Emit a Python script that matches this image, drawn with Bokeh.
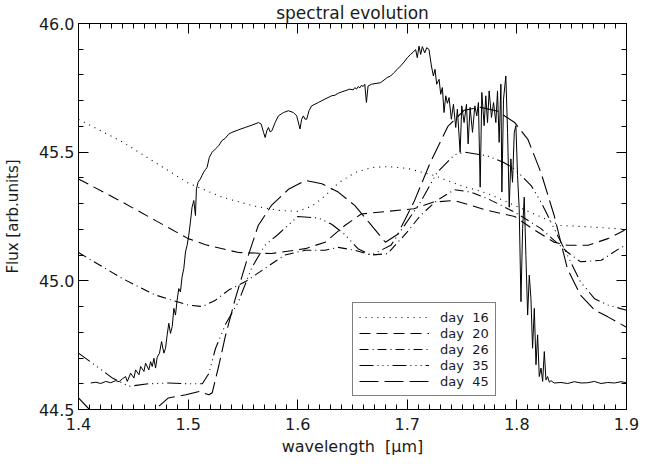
from bokeh.plotting import figure
from bokeh.models import (Legend, LegendItem, LinearAxis, FixedTicker, Range1d,
                          ColumnDataSource)
from bokeh.embed import file_html
from bokeh.resources import INLINE

# ---------------- data ----------------
x_ticks = [1.4, 1.5, 1.6, 1.7, 1.8, 1.9]
x_tick_labels = ["1.4", "1.5", "1.6", "1.7", "1.8", "1.9"]
y_ticks = [44.5, 45.0, 45.5, 46.0]
y_tick_labels = ["44.5", "45.0", "45.5", "46.0"]

NB = "\u00a0"
legend_labels = ["day" + NB + NB + "16", "day" + NB + NB + "20", "day" + NB + NB + "26",
                 "day" + NB + NB + "35", "day" + NB + NB + "45"]
title_text = "spectral evolution"
x_label = "wavelength" + NB + NB + "[\u03bcm]"
y_label = "Flux" + NB + "[arb.units]"

# observed spectrum (solid line)
spec_wl = [1.4112, 1.4158, 1.4203, 1.4248, 1.4294, 1.4339, 1.4370, 1.4400, 1.4430, 1.4445,
           1.4476, 1.4506, 1.4521, 1.4552, 1.4567, 1.4597, 1.4612, 1.4642, 1.4658, 1.4673,
           1.4688, 1.4703, 1.4718, 1.4739, 1.4758, 1.4779, 1.4794, 1.4809, 1.4824, 1.4839,
           1.4855, 1.4870, 1.4885, 1.4900, 1.4915, 1.4930, 1.4945, 1.4961, 1.4976, 1.4991,
           1.5006, 1.5021, 1.5036, 1.5052, 1.5067, 1.5076, 1.5091, 1.5112, 1.5127, 1.5142,
           1.5158, 1.5173, 1.5194, 1.5218, 1.5248, 1.5279, 1.5309, 1.5339, 1.5370, 1.5400,
           1.5461, 1.5521, 1.5582, 1.5642, 1.5667, 1.5688, 1.5703, 1.5718, 1.5733, 1.5748,
           1.5764, 1.5794, 1.5824, 1.5870, 1.5915, 1.5961, 1.5991, 1.6021, 1.6036, 1.6052,
           1.6067, 1.6082, 1.6103, 1.6127, 1.6188, 1.6248, 1.6309, 1.6339, 1.6370, 1.6400,
           1.6430, 1.6476, 1.6506, 1.6521, 1.6537, 1.6552, 1.6567, 1.6582, 1.6597, 1.6612,
           1.6627, 1.6642, 1.6673, 1.6756, 1.6817, 1.6848, 1.6878, 1.6909, 1.6939, 1.6970,
           1.7000, 1.7030, 1.7055, 1.7076, 1.7091, 1.7107, 1.7122, 1.7137, 1.7159, 1.7177,
           1.7198, 1.7220, 1.7238, 1.7253, 1.7268, 1.7290, 1.7305, 1.7320, 1.7335, 1.7351,
           1.7366, 1.7381, 1.7402, 1.7421, 1.7442, 1.7457, 1.7482, 1.7497, 1.7518, 1.7540,
           1.7555, 1.7573, 1.7595, 1.7616, 1.7634, 1.7649, 1.7665, 1.7680, 1.7701, 1.7716,
           1.7732, 1.7747, 1.7768, 1.7787, 1.7808, 1.7823, 1.7838, 1.7854, 1.7863, 1.7878,
           1.7899, 1.7915, 1.7930, 1.7945, 1.7960, 1.7976, 1.7991, 1.8006, 1.8021, 1.8037,
           1.8052, 1.8067, 1.8082, 1.8098, 1.8113, 1.8128, 1.8143, 1.8159, 1.8174, 1.8189,
           1.8204, 1.8220, 1.8235, 1.8250, 1.8265, 1.8280, 1.8296, 1.8311, 1.8341, 1.8402,
           1.8463, 1.8524, 1.8585, 1.8646, 1.8707, 1.8768, 1.8829, 1.8890, 1.8951, 1.9000]
spec_flux = [44.603, 44.606, 44.601, 44.609, 44.604, 44.612, 44.608, 44.619, 44.628, 44.609,
             44.641, 44.622, 44.654, 44.635, 44.667, 44.648, 44.680, 44.654, 44.686, 44.667,
             44.699, 44.661, 44.703, 44.719, 44.764, 44.719, 44.738, 44.790, 44.835, 44.796,
             44.822, 44.893, 44.867, 44.925, 44.970, 44.957, 45.015, 45.048, 45.112, 45.138,
             45.177, 45.228, 45.286, 45.312, 45.254, 45.357, 45.383, 45.396, 45.409, 45.422,
             45.432, 45.441, 45.480, 45.499, 45.512, 45.525, 45.545, 45.554, 45.570, 45.577,
             45.587, 45.596, 45.605, 45.615, 45.609, 45.577, 45.557, 45.583, 45.596, 45.579,
             45.583, 45.615, 45.641, 45.654, 45.661, 45.654, 45.641, 45.590, 45.628, 45.641,
             45.628, 45.628, 45.661, 45.680, 45.693, 45.706, 45.719, 45.721, 45.729, 45.734,
             45.738, 45.745, 45.742, 45.751, 45.745, 45.755, 45.750, 45.760, 45.755, 45.764,
             45.693, 45.757, 45.764, 45.770, 45.790, 45.796, 45.809, 45.822, 45.835, 45.850,
             45.867, 45.880, 45.889, 45.899, 45.867, 45.912, 45.880, 45.910, 45.886, 45.906,
             45.899, 45.835, 45.796, 45.822, 45.764, 45.783, 45.725, 45.751, 45.654, 45.719,
             45.690, 45.712, 45.628, 45.686, 45.596, 45.667, 45.499, 45.680, 45.615, 45.686,
             45.532, 45.674, 45.577, 45.680, 45.641, 45.693, 45.364, 45.732, 45.603, 45.719,
             45.615, 45.738, 45.635, 45.693, 45.615, 45.738, 45.538, 45.764, 45.345, 45.706,
             45.796, 45.577, 45.286, 45.474, 45.383, 45.577, 45.603, 45.409, 45.280, 44.919,
             45.203, 45.325, 45.099, 44.867, 45.022, 44.932, 44.738, 44.893, 44.674, 44.790,
             44.628, 44.661, 44.609, 44.725, 44.615, 44.628, 44.606, 44.612, 44.603, 44.605,
             44.601, 44.608, 44.603, 44.604, 44.609, 44.601, 44.605, 44.603, 44.608, 44.604]

# model spectra
d16_wl = [1.400, 1.440, 1.470, 1.500, 1.531, 1.561, 1.582, 1.600, 1.613, 1.625, 1.637, 1.652,
          1.667, 1.682, 1.700, 1.724, 1.749, 1.773, 1.798, 1.822, 1.840, 1.865, 1.900]
d16_flux = [45.628, 45.540, 45.460, 45.380, 45.325, 45.290, 45.274, 45.270, 45.290, 45.330,
            45.380, 45.420, 45.440, 45.444, 45.437, 45.410, 45.370, 45.340, 45.293, 45.248,
            45.215, 45.210, 45.200]

d20_wl = [1.400, 1.440, 1.470, 1.500, 1.516, 1.546, 1.576, 1.607, 1.625, 1.643, 1.658, 1.682,
          1.706, 1.724, 1.743, 1.773, 1.798, 1.815, 1.834, 1.846, 1.865, 1.883, 1.900]
d20_flux = [45.396, 45.306, 45.235, 45.164, 45.140, 45.110, 45.106, 45.125, 45.150, 45.215,
            45.260, 45.270, 45.280, 45.306, 45.312, 45.274, 45.250, 45.200, 45.150, 45.138,
            45.138, 45.164, 45.200]

d26_wl = [1.400, 1.440, 1.470, 1.500, 1.513, 1.525, 1.537, 1.552, 1.570, 1.588, 1.607, 1.625,
          1.637, 1.652, 1.667, 1.682, 1.700, 1.712, 1.727, 1.743, 1.758, 1.773, 1.798, 1.822,
          1.846, 1.858, 1.877, 1.895, 1.900]
d26_flux = [45.110, 45.009, 44.945, 44.906, 44.900, 44.925, 44.964, 44.996, 45.048, 45.100,
            45.119, 45.119, 45.130, 45.119, 45.100, 45.106, 45.190, 45.254, 45.312, 45.354,
            45.345, 45.320, 45.267, 45.203, 45.112, 45.074, 45.080, 45.130, 45.138]

d35_wl = [1.400, 1.419, 1.431, 1.446, 1.464, 1.482, 1.501, 1.513, 1.519, 1.525, 1.534, 1.546,
          1.558, 1.570, 1.582, 1.600, 1.619, 1.631, 1.643, 1.655, 1.667, 1.685, 1.712, 1.727,
          1.743, 1.752, 1.773, 1.788, 1.798, 1.813, 1.822, 1.834, 1.846, 1.858, 1.871, 1.883,
          1.900]
d35_flux = [44.719, 44.660, 44.622, 44.590, 44.600, 44.603, 44.600, 44.600, 44.640, 44.737,
            44.830, 44.920, 45.050, 45.138, 45.180, 45.250, 45.244, 45.220, 45.180, 45.125,
            45.100, 45.138, 45.306, 45.420, 45.490, 45.500, 45.486, 45.460, 45.435, 45.370,
            45.306, 45.203, 45.100, 44.996, 44.930, 44.906, 44.886]

d45_wl = [1.400, 1.410, 1.425, 1.445, 1.465, 1.470, 1.482, 1.498, 1.510, 1.519, 1.522, 1.528,
          1.534, 1.543, 1.555, 1.564, 1.576, 1.592, 1.607, 1.622, 1.637, 1.652, 1.666, 1.680,
          1.691, 1.706, 1.721, 1.737, 1.752, 1.767, 1.782, 1.798, 1.810, 1.822, 1.834, 1.846,
          1.858, 1.871, 1.883, 1.900]
d45_flux = [44.545, 44.500, 44.450, 44.420, 44.470, 44.500, 44.545, 44.557, 44.570, 44.557,
            44.565, 44.670, 44.785, 44.930, 45.100, 45.215, 45.293, 45.357, 45.390, 45.377,
            45.345, 45.293, 45.222, 45.150, 45.180, 45.306, 45.460, 45.600, 45.663, 45.674,
            45.660, 45.615, 45.550, 45.420, 45.254, 45.048, 44.945, 44.886, 44.860, 44.820]

# ---------------- figure ----------------
FONT = "DejaVu Sans"
TXT = "#1a1a1a"

p = figure(frame_width=548, frame_height=386,
           x_range=Range1d(1.4, 1.9), y_range=Range1d(44.5, 46.0),
           output_backend="svg", toolbar_location=None,
           min_border_left=77, min_border_right=30, min_border_top=19,
           min_border_bottom=50, background_fill_color="white",
           border_fill_color="white")

p.title.text = title_text
p.title.align = "center"
p.title.text_font = FONT
p.title.text_font_size = "17px"
p.title.text_font_style = "normal"
p.title.text_color = TXT
p.title.standoff = 1

p.grid.visible = False
p.outline_line_color = "black"
p.outline_line_width = 1

x_minor = [round(1.4 + 0.01 * i, 2) for i in range(51)]
y_minor = [round(44.5 + 0.1 * i, 1) for i in range(16)]
xticker = FixedTicker(ticks=x_ticks, minor_ticks=x_minor)
yticker = FixedTicker(ticks=y_ticks, minor_ticks=y_minor)


def style_axis(ax, ticker, labels, ticks):
    ax.ticker = ticker
    ax.major_label_overrides = {t: l for t, l in zip(ticks, labels)}
    ax.major_tick_in = 10
    ax.major_tick_out = 0
    ax.minor_tick_in = 5
    ax.minor_tick_out = 0
    ax.major_tick_line_color = "black"
    ax.minor_tick_line_color = "black"
    ax.axis_line_color = "black"
    ax.major_label_text_font = FONT
    ax.major_label_text_font_size = "16px"
    ax.major_label_text_color = TXT
    ax.axis_label_text_font = FONT
    ax.axis_label_text_font_style = "normal"
    ax.axis_label_text_color = TXT


style_axis(p.xaxis[0], xticker, x_tick_labels, x_ticks)
style_axis(p.yaxis[0], yticker, y_tick_labels, y_ticks)
p.xaxis[0].axis_label = x_label
p.xaxis[0].axis_label_text_font_size = "16px"
p.xaxis[0].major_label_standoff = 8
p.xaxis[0].axis_label_standoff = 4
p.yaxis[0].axis_label = y_label
p.yaxis[0].axis_label_text_font_size = "15px"
p.yaxis[0].major_label_standoff = 4
p.yaxis[0].axis_label_standoff = 14

# mirrored tick marks on the top and right edges (no labels)
for place, ticker in (("above", xticker), ("right", yticker)):
    ax = LinearAxis(ticker=ticker, major_tick_in=10, major_tick_out=0,
                    minor_tick_in=5, minor_tick_out=0,
                    major_label_text_color=None, major_label_text_font_size="1px",
                    major_label_standoff=0, axis_line_color="black",
                    major_tick_line_color="black", minor_tick_line_color="black")
    p.add_layout(ax, place)

# lines
p.line(spec_wl, spec_flux, line_color="black", line_width=1)
styles = ["1 5", "11 6", "9 4 1 4", "14 4 1 4 1 4 1 4", "19 6"]
series = [(d16_wl, d16_flux), (d20_wl, d20_flux), (d26_wl, d26_flux),
          (d35_wl, d35_flux), (d45_wl, d45_flux)]
renderers = []
for (wl, fl), dash in zip(series, styles):
    src = ColumnDataSource(data=dict(x=wl, y=fl))
    r = p.line("x", "y", source=src, line_color="black", line_width=1.1,
               line_dash=dash)
    renderers.append(r)

legend = Legend(items=[LegendItem(label=lab, renderers=[r])
                       for lab, r in zip(legend_labels, renderers)],
                location=(274, 13), orientation="vertical",
                border_line_color="black", border_line_width=1,
                background_fill_color="white", background_fill_alpha=1.0,
                label_text_font=FONT, label_text_font_size="13px",
                label_text_color=TXT, glyph_width=70, glyph_height=16,
                label_height=16, label_width=49, label_standoff=11,
                padding=6, spacing=0, margin=0)
p.add_layout(legend)

open("out.html", "w").write(file_html(p, INLINE))
